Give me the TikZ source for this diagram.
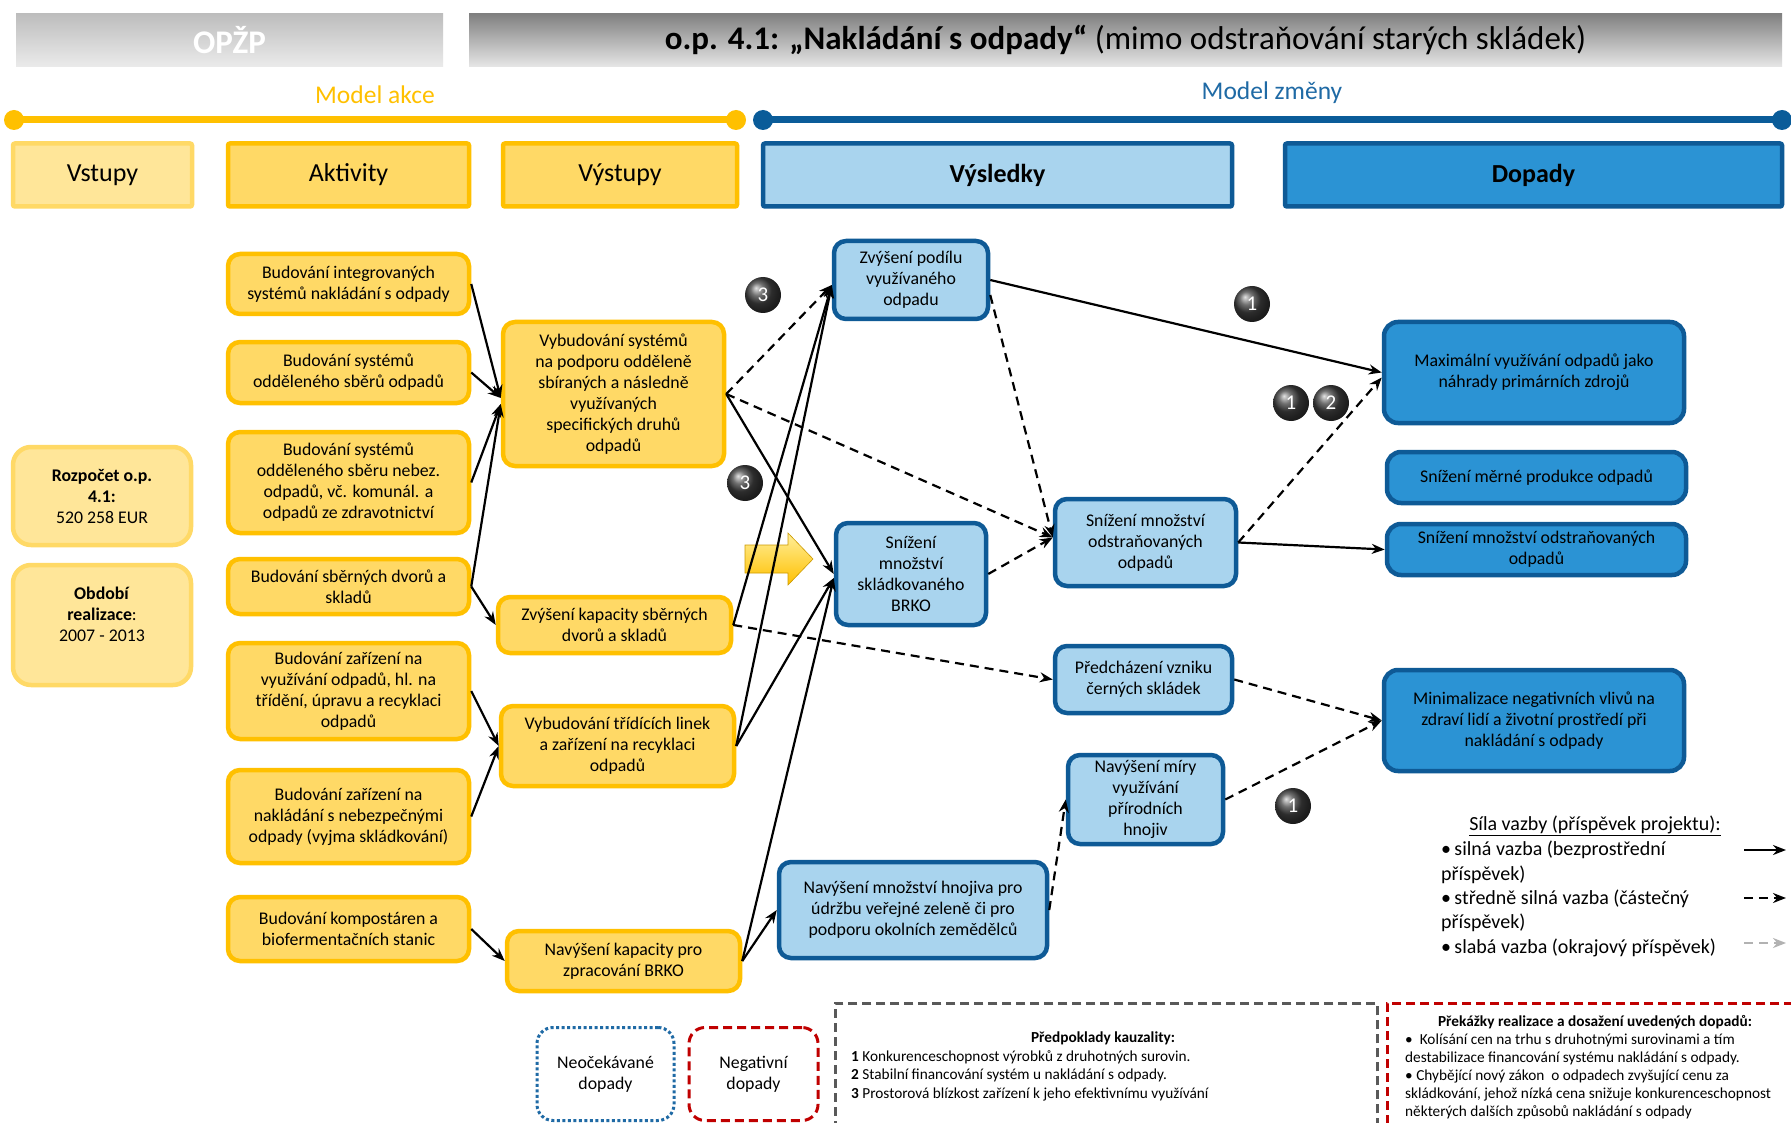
\documentclass[tikz,border=0pt]{standalone}
\usepackage{fontspec}
\setmainfont{Carlito}
\usetikzlibrary{arrows.meta}
\definecolor{amber}{HTML}{FFC000}
\definecolor{sand}{HTML}{FFD966}
\definecolor{cream}{HTML}{FFE699}
\definecolor{navy}{HTML}{0E5A96}
\definecolor{sky}{HTML}{A9D4EE}
\definecolor{ocean}{HTML}{2B93D4}
\definecolor{brick}{HTML}{C00000}
\definecolor{slate}{HTML}{595959}
\definecolor{modelblue}{HTML}{1F6AA5}
\definecolor{lineblue}{HTML}{0A5C99}

\tikzset{
  txt/.style={font=\fontsize{17.8}{21}\selectfont, align=center, inner sep=0pt},
  actbox/.style={txt, draw=amber, fill=sand, line width=4.5pt, rounded corners=12pt},
  inbox/.style={txt, draw=sand, fill=cream, line width=4.5pt, rounded corners=18pt},
  resbox/.style={txt, draw=navy, fill=sky, line width=4.5pt, rounded corners=12pt},
  impbox/.style={txt, draw=navy, fill=ocean, line width=4.5pt, rounded corners=14pt},
  headbox/.style={font=\fontsize{26}{30}\selectfont, line width=4.5pt, inner sep=0pt, rounded corners=2pt},
  strong/.style={line width=2.2pt, -{Stealth[length=13pt,width=10pt]}},
  medium/.style={strong, dash pattern=on 9pt off 6pt},
  weak/.style={medium, draw=black!30},
  badge/.style={circle, ball color=black!75, text=white, minimum size=36pt, inner sep=0pt, font=\fontsize{21}{21}\selectfont},
  note/.style={inner sep=0pt, align=left, font=\fontsize{15.3}{18.5}\selectfont},
}

\begin{document}
\begin{tikzpicture}[x=1pt, y=-1pt]
\path[use as bounding box, fill=white] (0,0) rectangle (1791,1123);

% ---------- title bar ----------
\node[top color=black!26, bottom color=black!8, minimum width=427pt, minimum height=53pt,
      text=white, font=\bfseries\fontsize{33}{34}\selectfont] (prog) at (229.5,40) {OPŽP};
\node[top color=black!50, bottom color=black!10, minimum width=1313pt, minimum height=53pt,
      font=\fontsize{33}{34}\selectfont] (axis) at (1125.5,40)
      {\textbf{o.p. 4.1: „Nakládání s odpady“} (mimo odstraňování starých skládek)};

% ---------- model timelines ----------
\node[text=amber, font=\fontsize{25.5}{27}\selectfont] (makce) at (375,95) {Model akce};
\node[text=modelblue, font=\fontsize{25.5}{27}\selectfont] (mzmeny) at (1272,93) {Model změny};
\coordinate (ak0) at (14,120);
\coordinate (ak1) at (736,120);
\coordinate (mz0) at (763,120);
\coordinate (mz1) at (1782,120);
\draw[amber, line width=7pt] (ak0) -- (ak1);
\fill[amber] (ak0) circle[radius=10pt] (ak1) circle[radius=10pt];
\draw[lineblue, line width=7pt] (mz0) -- (mz1);
\fill[lineblue] (mz0) circle[radius=10pt] (mz1) circle[radius=10pt];

% ---------- column headings ----------
\node[headbox, draw=sand, fill=cream, minimum width=179pt, minimum height=63pt] (hin) at (102.5,175) {Vstupy};
\node[headbox, draw=amber, fill=sand, minimum width=241pt, minimum height=63pt] (hact) at (348.5,175) {Aktivity};
\node[headbox, draw=amber, fill=sand, minimum width=234pt, minimum height=63pt] (hout) at (620,175) {Výstupy};
\node[headbox, draw=navy, fill=sky, minimum width=469pt, minimum height=63pt] (hres) at (997.5,175) {\textbf{Výsledky}};
\node[headbox, draw=navy, fill=ocean, minimum width=497pt, minimum height=63pt] (himp) at (1533.5,175) {\textbf{Dopady}};

% ---------- inputs ----------
\node[inbox, minimum width=178pt, minimum height=98pt] (in1) at (102,496)
  {\textbf{Rozpočet o.p.}\\\textbf{4.1:}\\520 258 EUR};
\node[inbox, minimum width=178pt, minimum height=120pt] (in2) at (102,625)
  {\textbf{Období}\\\textbf{realizace}:\\2007 - 2013\\~};

% ---------- activities ----------
\node[actbox, minimum width=241pt, minimum height=60pt] (a1) at (348.5,284)
  {Budování integrovaných\\systémů nakládání s odpady};
\node[actbox, minimum width=241pt, minimum height=61pt] (a2) at (348.5,372.5)
  {Budování systémů\\odděleného sběrů odpadů};
\node[actbox, minimum width=241pt, minimum height=101pt] (a3) at (348.5,482.5)
  {Budování systémů\\odděleného sběru nebez.\\odpadů, vč. komunál. a\\odpadů ze zdravotnictví};
\node[actbox, minimum width=241pt, minimum height=55pt] (a4) at (348.5,586.5)
  {Budování sběrných dvorů a\\skladů};
\node[actbox, minimum width=241pt, minimum height=96pt] (a5) at (348.5,691)
  {Budování zařízení na\\využívání odpadů, hl. na\\třídění, úpravu a recyklaci\\odpadů};
\node[actbox, minimum width=241pt, minimum height=93pt] (a6) at (348.5,816.5)
  {Budování zařízení na\\nakládání s nebezpečnými\\odpady (vyjma skládkování)};
\node[actbox, minimum width=241pt, minimum height=64pt] (a7) at (348.5,929)
  {Budování kompostáren a\\biofermentačních stanic};

% ---------- outputs ----------
\node[actbox, minimum width=221pt, minimum height=144pt] (o1) at (613.5,394)
  {Vybudování systémů\\na podporu odděleně\\sbíraných a následně\\využívaných\\specifických druhů\\odpadů};
\node[actbox, minimum width=233pt, minimum height=56pt] (o2) at (614.5,625)
  {Zvýšení kapacity sběrných\\dvorů a skladů};
\node[actbox, minimum width=233pt, minimum height=80pt] (o3) at (617.5,746)
  {Vybudování třídících linek\\a zařízení na recyklaci\\odpadů};
\node[actbox, minimum width=233pt, minimum height=60pt] (o4) at (623.5,961)
  {Navýšení kapacity pro\\zpracování BRKO};

% ---------- results ----------
\node[resbox, minimum width=154pt, minimum height=78pt] (r1) at (911,280)
  {Zvýšení podílu\\využívaného\\odpadu};
\node[resbox, minimum width=150pt, minimum height=102pt] (r2) at (911,574)
  {Snížení\\množství\\skládkovaného\\BRKO};
\node[resbox, minimum width=181pt, minimum height=87pt] (r3) at (1145.5,542.5)
  {Snížení množství\\odstraňovaných\\odpadů};
\node[resbox, minimum width=177pt, minimum height=67pt] (r4) at (1143.5,679.5)
  {Předcházení vzniku\\černých skládek};
\node[resbox, minimum width=155pt, minimum height=89pt] (r5) at (1145.5,799.5)
  {Navýšení míry\\využívání\\přírodních\\hnojiv};
\node[resbox, minimum width=268pt, minimum height=96pt] (r6) at (913,910)
  {Navýšení množství hnojiva pro\\údržbu veřejné zeleně či pro\\podporu okolních zemědělců};

% ---------- impacts ----------
\node[impbox, minimum width=300pt, minimum height=101pt] (i1) at (1534,372.5)
  {Maximální využívání odpadů jako\\náhrady primárních zdrojů};
\node[impbox, minimum width=299pt, minimum height=51pt] (i2) at (1536.5,477.5)
  {Snížení měrné produkce odpadů};
\node[impbox, minimum width=299pt, minimum height=51pt] (i3) at (1536.5,549.5)
  {Snížení množství odstraňovaných\\odpadů};
\node[impbox, minimum width=300pt, minimum height=101pt] (i4) at (1534,720.5)
  {Minimalizace negativních vlivů na\\zdraví lidí a životní prostředí při\\nakládání s odpady};

% ---------- block arrow pointing at the results ----------
\shade[top color=yellow!35!amber!40, bottom color=amber, draw=amber!80!black, line width=0.6pt]
  (745,545) -- (788,545) -- (788,533) -- (813,559) -- (788,585) -- (788,573) -- (745,573) -- cycle;

% ---------- activities -> outputs ----------
\draw[strong] (a1.east) -- ([yshift=-4pt]o1.west);
\draw[strong] (a2.east) -- ([yshift=-4pt]o1.west);
\draw[strong] (a3.east) -- ([yshift=-10pt]o1.west);
\draw[strong] (a4.east) -- ([yshift=-10pt]o1.west);
\draw[strong] (a4.east) -- (o2.west);
\draw[strong] (a5.east) -- (o3.west);
\draw[strong] (a6.east) -- (o3.west);
\draw[strong] (a7.east) -- (o4.west);

% ---------- outputs -> results ----------
\draw[medium] (o1.east) -- ([yshift=-5pt]r1.west);
\draw[strong] (o1.east) -- (r2.west);
\draw[medium] (o1.east) -- ([yshift=5pt]r3.west);
\draw[strong] (o2.east) -- ([yshift=-5pt]r1.west);
\draw[medium] (o2.east) -- (r4.west);
\draw[strong] (o3.east) -- ([yshift=-5pt]r1.west);
\draw[strong] (o3.east) -- ([yshift=-4pt]r2.west);
\draw[strong] (o4.east) -- ([yshift=-4pt]r2.west);
\draw[strong] (o4.east) -- (r6.west);

% ---------- results -> results and impacts ----------
\draw[strong] (r1.east) -- (i1.west);
\draw[medium] ([yshift=-15pt]r1.east) -- ([yshift=5pt]r3.west);
\draw[medium] (r2.east) -- ([yshift=5pt]r3.west);
\draw[medium] (r3.east) -- ([yshift=-5pt]i1.west);
\draw[strong] (r3.east) -- (i3.west);
\draw[medium] (r4.east) -- (i4.west);
\draw[medium] (r5.east) -- (i4.west);
\draw[medium] (r6.east) -- (r5.west);

% ---------- causality assumption badges ----------
\node[badge] (b1) at (763,295) {3};
\node[badge] (b2) at (745,483) {3};
\node[badge] (b3) at (1252,304) {1};
\node[badge] (b4) at (1291,403) {1};
\node[badge] (b5) at (1331,403) {2};
\node[badge] (b6) at (1293,806) {1};

% ---------- legend ----------
\node[inner sep=0pt, font=\fontsize{20}{24}\selectfont] (legt) at (1595,826)
  {\underline{Síla vazby (příspěvek projektu):}};
\node[inner sep=0pt, align=left, anchor=north west, font=\fontsize{20}{24.3}\selectfont] (legb) at (1441,841)
  {•\,silná vazba (bezprostřední\\příspěvek)\\•\,středně silná vazba (částečný\\příspěvek)\\•\,slabá vazba (okrajový příspěvek)};
\coordinate (l1a) at (1744,850);  \coordinate (l1b) at (1786,850);
\coordinate (l2a) at (1744,898);  \coordinate (l2b) at (1786,898);
\coordinate (l3a) at (1744,943);  \coordinate (l3b) at (1786,943);
\draw[strong] (l1a) -- (l1b);
\draw[medium] (l2a) -- (l2b);
\draw[weak] (l3a) -- (l3b);

% ---------- bottom panels ----------
\node[txt, draw=modelblue, dash pattern=on 3pt off 2.5pt, line width=3pt, rounded corners=16pt,
      minimum width=137pt, minimum height=93pt] (unexp) at (605.5,1074) {Neočekávané\\dopady};
\node[txt, draw=brick, dash pattern=on 9pt off 5pt, line width=3pt, rounded corners=16pt,
      minimum width=129pt, minimum height=93pt] (negat) at (753.5,1074) {Negativní\\dopady};

\node[draw=slate, dash pattern=on 9pt off 5pt, line width=2.5pt, anchor=north west,
      minimum width=542pt, minimum height=170pt] (asm) at (834,1002) {};
\node[inner sep=0pt, font=\bfseries\fontsize{15.3}{18}\selectfont] (asmt) at (1103,1038) {Předpoklady kauzality:};
\node[note, anchor=north west] (asml) at (851,1050)
  {\textbf{1} Konkurenceschopnost výrobků z druhotných surovin.\\
   \textbf{2} Stabilní financování systém u nakládání s odpady.\\
   \textbf{3} Prostorová blízkost zařízení k jeho efektivnímu využívání};

\node[draw=brick, dash pattern=on 9pt off 5pt, line width=2.5pt, anchor=north west,
      minimum width=440pt, minimum height=170pt] (bar) at (1386,1002) {};
\node[inner sep=0pt, font=\bfseries\fontsize{15.3}{18}\selectfont] (bart) at (1595,1022)
  {Překážky realizace a dosažení uvedených dopadů:};
\node[note, anchor=north west, font=\fontsize{15.3}{18}\selectfont] (barl) at (1405,1034)
  {•\ \ Kolísání cen na trhu s druhotnými surovinami a tím\\
   destabilizace financování systému nakládání s odpady.\\
   • Chybějící nový zákon\ \ o odpadech zvyšující cenu za\\
   skládkování, jehož nízká cena snižuje konkurenceschopnost\\
   některých dalších způsobů nakládání s odpady};
\end{tikzpicture}
\end{document}
